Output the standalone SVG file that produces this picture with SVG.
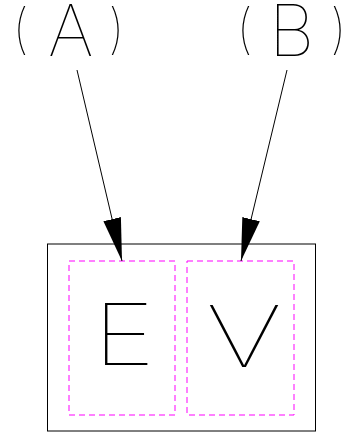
<svg xmlns="http://www.w3.org/2000/svg" width="350" height="434" viewBox="0 0 350 434">
<style>
.lbl{font-family:Inter,"Liberation Sans",sans-serif;font-weight:100;fill:#000}
.p{font-size:54px}
.dash{fill:none;stroke:#ff00ff;stroke-width:1;stroke-dasharray:6,4}
.edge{stroke:#000;stroke-width:1;fill:none}
</style>
<defs>
<marker id="ah" markerUnits="userSpaceOnUse" markerWidth="44" markerHeight="20" refX="43" refY="9" orient="auto" viewBox="0 0 44 18">
<path d="M0,0 L43,9 L0,18 Z" fill="#000"/>
</marker>
</defs>
<rect width="350" height="434" fill="#fff"/>
<g id="nodeA"><text class="lbl" font-size="71"><tspan class="p" x="12" y="48">(</tspan><tspan x="48" y="56">A</tspan><tspan class="p" x="108" y="48">)</tspan></text></g>
<g id="nodeB"><text class="lbl" font-size="71"><tspan class="p" x="236" y="48">(</tspan><tspan x="269" y="56">B</tspan><tspan class="p" x="330" y="48">)</tspan></text></g>
<g id="container">
<rect x="47.5" y="244" width="268" height="187" fill="none" stroke="#000" stroke-width="1"/>
<g id="nodeE"><rect class="dash" x="69" y="261" width="106" height="154"/><text class="lbl" font-size="85" text-anchor="middle" transform="translate(124,365) scale(1.25,1)">E</text></g>
<g id="nodeV"><rect class="dash" x="187" y="261" width="107" height="154"/><text class="lbl" font-size="85" text-anchor="middle" transform="translate(244,367) scale(1.4,1)">V</text></g>
</g>
<g id="connectors">
<line class="edge" x1="77" y1="70" x2="122" y2="261" marker-end="url(#ah)"/>
<line class="edge" x1="287" y1="70" x2="241" y2="261" marker-end="url(#ah)"/>
</g>
</svg>
